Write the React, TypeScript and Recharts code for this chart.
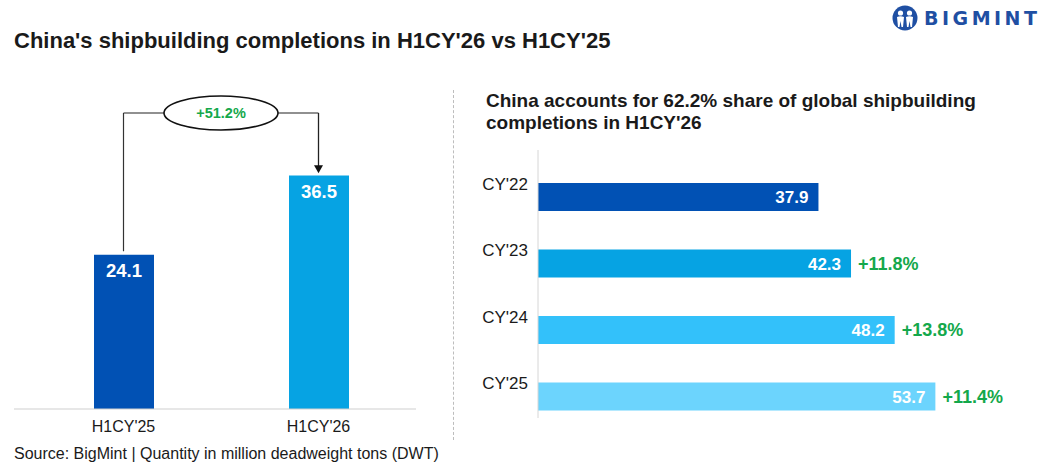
import React from 'react';
import { BarChart, Bar, XAxis, YAxis, Cell, LabelList, ReferenceLine } from 'recharts';

const leftCategories = ["H1CY'25", "H1CY'26"];
const leftValues = [24.1, 36.5];
const leftColors = ['#0151B4', '#06A3E3'];
const leftGrowthLabel = '+51.2%';

const rightCategories = ["CY'22", "CY'23", "CY'24", "CY'25"];
const rightValues = [37.9, 42.3, 48.2, 53.7];
const rightGrowth = ['', '+11.8%', '+13.8%', '+11.4%'];
const rightColors = ['#0151B4', '#06A3E3', '#33C1FA', '#6CD4FD'];

const leftData = leftCategories.map((name, i) => ({ name, value: leftValues[i] }));
const rightData = rightCategories.map((name, i) => ({ name, value: rightValues[i], growth: rightGrowth[i] }));

const FONT = '"Liberation Sans", Arial, sans-serif';
const GREEN = '#14A84B';
const TEXT = '#1a1a1a';

const CONNECT_Y = 46.25;

const LeftTick = (props: any) => {
  const { x, y, payload } = props;
  return (
    <text x={x} y={y + 19} textAnchor="middle" dominantBaseline="middle" fontFamily={FONT} fontSize={16} fill={TEXT}>
      {payload.value}
    </text>
  );
};

const RightTick = (props: any) => {
  const { x, y, payload } = props;
  return (
    <text x={x - 2} y={y - 12} textAnchor="end" dominantBaseline="middle" fontFamily={FONT} fontSize={17} fill={TEXT}>
      {payload.value}
    </text>
  );
};

const EllipseLabel = (props: any) => {
  const vb = props.viewBox || {};
  const cx = vb.x + vb.width / 2;
  const cy = vb.y;
  return (
    <g>
      <ellipse cx={cx} cy={cy} rx={57} ry={17} fill="#fff" stroke="#111" strokeWidth={1.6} />
      <text x={cx} y={cy} textAnchor="middle" dominantBaseline="central" fontFamily={FONT} fontWeight={700} fontSize={14.5} fill={GREEN}>
        {leftGrowthLabel}
      </text>
    </g>
  );
};

const ArrowLine = (props: any) => {
  const { x1, y1, x2, y2 } = props;
  return (
    <g>
      <line x1={x1} y1={y1} x2={x2} y2={y2 - 7} stroke="#222" strokeWidth={1.3} />
      <polygon points={`${x2 - 4.5},${y2 - 8} ${x2 + 4.5},${y2 - 8} ${x2},${y2}`} fill="#111" />
    </g>
  );
};

const Logo = () => (
  <div style={{ position: 'absolute', left: 892, top: 5, display: 'flex', alignItems: 'center' }}>
    <svg width={26} height={26} viewBox="0 0 26 26">
      <circle cx={13} cy={13} r={12.5} fill="#1F4FA3" />
      <circle cx={8.5} cy={8} r={2.6} fill="#fff" />
      <circle cx={17.5} cy={8} r={2.6} fill="#fff" />
      <path d="M5 12 Q8.5 10.5 12 12 L11 22 L9.5 22 L8.5 16 L7.5 22 L6 22 Z" fill="#fff" />
      <path d="M14 12 Q17.5 10.5 21 12 L20 22 L18.5 22 L17.5 16 L16.5 22 L15 22 Z" fill="#fff" />
      <rect x={12} y={10} width={2} height={12} fill="#1F4FA3" />
    </svg>
    <span style={{ marginLeft: 6, fontFamily: '"DejaVu Sans", Arial, sans-serif', fontWeight: 700, fontSize: 19, letterSpacing: 3.5, color: '#1F4FA3' }}>
      BIGMINT
    </span>
  </div>
);

export default function App() {
  return (
    <div style={{ position: 'relative', width: 1053, height: 466, background: '#fff', overflow: 'hidden', fontFamily: FONT }}>
      <style>{`body{margin:0;}`}</style>
      <div style={{ position: 'absolute', left: 14, top: 28, fontSize: 22, lineHeight: '25px', fontWeight: 700, color: TEXT, whiteSpace: 'nowrap' }}>
        China's shipbuilding completions in H1CY'26 vs H1CY'25
      </div>
      <Logo />
      <div style={{ position: 'absolute', left: 486, top: 90, fontSize: 19, fontWeight: 700, color: TEXT, lineHeight: '22px', whiteSpace: 'nowrap' }}>
        China accounts for 62.2% share of global shipbuilding<br />completions in H1CY'26
      </div>
      <div style={{ position: 'absolute', left: 453, top: 90, height: 350, borderLeft: '1px dashed #BDBDBD' }} />
      <div style={{ position: 'absolute', left: 14, top: 445, fontSize: 16, color: TEXT, whiteSpace: 'nowrap' }}>
        Source: BigMint | Quantity in million deadweight tons (DWT)
      </div>

      <div style={{ position: 'absolute', left: 0, top: 0 }}>
        <BarChart width={453} height={466} data={leftData} margin={{ top: 89, right: 37, bottom: 27, left: 14 }}>
          <XAxis dataKey="name" height={30} axisLine={{ stroke: '#CFCFCF' }} tickLine={false} tickSize={0} tickMargin={0} tick={<LeftTick />} padding={{ left: 12, right: 0 }} />
          <YAxis hide domain={[0, 50]} />
          <Bar dataKey="value" barSize={60} isAnimationActive={false}>
            {leftData.map((d, i) => (
              <Cell key={d.name} fill={leftColors[i]} />
            ))}
            <LabelList dataKey="value" position="insideTop" offset={9} fill="#fff" fontFamily={FONT} fontWeight={700} fontSize={18.5} />
          </Bar>
          <ReferenceLine
            segment={[{ x: leftCategories[0], y: 24.65 }, { x: leftCategories[0], y: CONNECT_Y }]}
            stroke="#333"
            strokeWidth={1.2}
          />
          <ReferenceLine
            segment={[{ x: leftCategories[0], y: CONNECT_Y }, { x: leftCategories[1], y: CONNECT_Y }]}
            stroke="#222"
            strokeWidth={1.2}
            label={EllipseLabel}
          />
          <ReferenceLine
            segment={[{ x: leftCategories[1], y: CONNECT_Y }, { x: leftCategories[1], y: 36.85 }]}
            shape={ArrowLine}
          />
        </BarChart>
      </div>

      <div style={{ position: 'absolute', left: 453, top: 0 }}>
        <BarChart layout="vertical" width={600} height={466} data={rightData} margin={{ top: 150, right: 34, bottom: 48, left: 25 }}>
          <XAxis type="number" hide domain={[0, 65]} />
          <YAxis type="category" dataKey="name" width={60} axisLine={{ stroke: '#D6D6D6' }} tickLine={false} tick={<RightTick />} padding={{ top: 14, bottom: -12 }} />
          <Bar dataKey="value" barSize={28} isAnimationActive={false}>
            {rightData.map((d, i) => (
              <Cell key={d.name} fill={rightColors[i]} />
            ))}
            <LabelList dataKey="value" position="insideRight" offset={10} fill="#fff" fontFamily={FONT} fontWeight={700} fontSize={17} />
            <LabelList dataKey="growth" position="right" offset={7} fill={GREEN} fontFamily={FONT} fontWeight={700} fontSize={18} />
          </Bar>
        </BarChart>
      </div>
    </div>
  );
}
